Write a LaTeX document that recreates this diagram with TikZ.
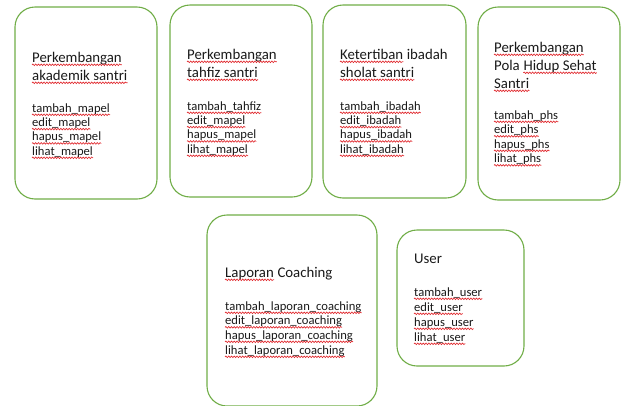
\documentclass[tikz,border=0pt]{standalone}
\usepackage{fontspec}
\setmainfont{Carlito}
\usetikzlibrary{decorations.pathmorphing}
\definecolor{boxgreen}{HTML}{70AD47}
\definecolor{squigred}{HTML}{E0282D}
\tikzset{
  card/.style={draw=boxgreen, line width=1.1pt, rounded corners=20pt},
  ttl/.style={inner sep=0pt, anchor=base west, font=\fontsize{14.8}{17}\selectfont, text=black!90},
  itm/.style={inner sep=0pt, anchor=base west, font=\fontsize{12.6}{14}\selectfont, text=black!90},
  squig/.style={draw=squigred, line width=0.65pt, decorate, decoration={snake, amplitude=0.8pt, segment length=2.8pt}}
}
\newcommand\squig[1]{\draw[squig] ([yshift=-2.8pt]#1.base west) -- ([yshift=-2.8pt]#1.base east);}
\begin{document}
\begin{tikzpicture}[x=1pt,y=-1pt]
\useasboundingbox (0,0) rectangle (622,405);
\clip (0,0) rectangle (622,405);
% boxes
\draw[card] (15,7) rectangle (157,199);
\draw[card] (170,5) rectangle (312,197);
\draw[card] (323,5) rectangle (466,198);
\draw[card] (478,7) rectangle (620,200);
\draw[card] (207,215) rectangle (377,406);
\draw[card] (397,230) rectangle (524,366);
% box 1
\node[ttl] (a1) at (32,62) {Perkembangan};
\node[ttl] (a2) at (32,80) {akademik santri};
\node[itm] (a3) at (32,112) {tambah\_mapel};
\node[itm] (a4) at (32,126.3) {edit\_mapel};
\node[itm] (a5) at (32,140.6) {hapus\_mapel};
\node[itm] (a6) at (32,155) {lihat\_mapel};
\foreach \n in {a1,a2,a3,a4,a5,a6} {\squig{\n}}
% box 2
\node[ttl] (b1) at (187,59) {Perkembangan};
\node[ttl] (b2) at (187,77) {tahfiz santri};
\node[itm] (b3) at (187,110) {tambah\_tahfiz};
\node[itm] (b4) at (187,124.3) {edit\_mapel};
\node[itm] (b5) at (187,138.6) {hapus\_mapel};
\node[itm] (b6) at (187,153) {lihat\_mapel};
\foreach \n in {b1,b2,b3,b4,b5,b6} {\squig{\n}}
% box 3
\node[ttl] (c1) at (340,59) {Ketertiban};
\node[ttl] (c1b) at ([xshift=3.3pt]c1.base east) {ibadah};
\node[ttl] (c2) at (340,77) {sholat santri};
\node[itm] (c3) at (340,110) {tambah\_ibadah};
\node[itm] (c4) at (340,124.3) {edit\_ibadah};
\node[itm] (c5) at (340,138.6) {hapus\_ibadah};
\node[itm] (c6) at (340,153) {lihat\_ibadah};
\foreach \n in {c1,c2,c3,c4,c5,c6} {\squig{\n}}
% box 4
\node[ttl] (d1) at (494,52) {Perkembangan};
\node[ttl] (d2) at (494,70) {Pola};
\node[ttl] (d2b) at ([xshift=3.3pt]d2.base east) {Hidup Sehat};
\node[ttl] (d3) at (494,88) {Santri};
\node[itm] (d4) at (494,119) {tambah\_phs};
\node[itm] (d5) at (494,133.5) {edit\_phs};
\node[itm] (d6) at (494,148) {hapus\_phs};
\node[itm] (d7) at (494,162.5) {lihat\_phs};
\foreach \n in {d1,d2b,d3,d4,d5,d6,d7} {\squig{\n}}
% box 5
\node[ttl] (e1) at (225,277) {Laporan};
\node[ttl] (e1b) at ([xshift=3.3pt]e1.base east) {Coaching};
\node[itm] (e2) at (225,310) {tambah\_laporan\_coaching};
\node[itm] (e3) at (225,324.5) {edit\_laporan\_coaching};
\node[itm] (e4) at (225,339) {hapus\_laporan\_coaching};
\node[itm] (e5) at (225,354) {lihat\_laporan\_coaching};
\foreach \n in {e1,e2,e3,e4,e5} {\squig{\n}}
% box 6
\node[ttl] (f1) at (414,263) {User};
\node[itm] (f2) at (414,296) {tambah\_user};
\node[itm] (f3) at (414,311) {edit\_user};
\node[itm] (f4) at (414,326) {hapus\_user};
\node[itm] (f5) at (414,341) {lihat\_user};
\foreach \n in {f2,f3,f4,f5} {\squig{\n}}
\end{tikzpicture}
\end{document}
